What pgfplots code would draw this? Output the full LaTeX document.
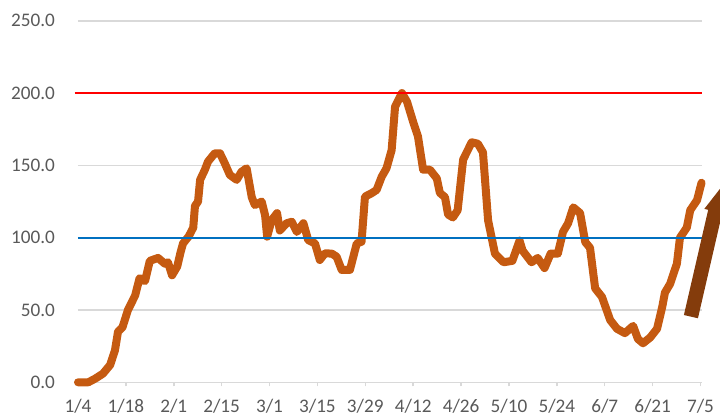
\documentclass[border=0pt]{standalone}
\usepackage{fontspec}
\setmainfont{Carlito}
\usepackage{pgfplots}
\pgfplotsset{compat=1.18}
\usetikzlibrary{calc}
\definecolor{lineorange}{HTML}{C55A11}
\definecolor{arrowbrown}{HTML}{843C0C}
\definecolor{gridgray}{HTML}{D9D9D9}
\definecolor{labelgray}{HTML}{595959}
\definecolor{refblue}{HTML}{0070C0}
\definecolor{refred}{HTML}{FF0000}

\begin{document}
\begin{tikzpicture}
\begin{axis}[
    scale only axis,
    width=312.1bp, height=180.75bp,
    xmin=0, xmax=182.5, ymin=0, ymax=250,
    axis lines*=left,
    x axis line style={gridgray, line width=0.75bp, -},
    y axis line style={draw=none, -},
    xtick={0,14,...,182},
    xticklabels={1/4,1/18,2/1,2/15,3/1,3/15,3/29,4/12,4/26,5/10,5/24,6/7,6/21,7/5},
    ytick={0,50,...,250},
    ymajorgrids,
    grid style={gridgray, line width=0.75bp},
    tick align=outside,
    xtick style={gridgray, line width=0.75bp},
    major tick length=2bp,
    ytick style={draw=none},
    tick label style={font=\fontsize{9.6bp}{11bp}\selectfont, text=labelgray},
    yticklabel style={/pgf/number format/.cd, fixed, fixed zerofill, precision=1, /tikz/.cd, xshift=-6bp},
    xticklabel style={yshift=-3bp},
    /pgf/number format/assume math mode=true,
    clip=false,
  ]
  \addplot[lineorange, line width=4bp, line join=round, line cap=round] coordinates {
    (0,0) (3,0) (5,2.5) (7.3,6) (9.4,12) (10.8,22) (11.7,35) (13,38) (14.6,50)
    (16.7,60) (18,72) (19.6,70) (21,84) (23.4,86) (25.4,82) (26.3,83) (27.5,74)
    (29,80) (30,90) (30.7,96) (32.4,101) (33.7,107) (34.2,122) (35.1,125) (35.7,140)
    (37.1,147) (38,152.6) (40,158.4) (41.5,158.4) (42.9,151.5) (44.4,143.4) (46.4,140)
    (47.8,145.6) (49.3,148) (50.8,128) (51.7,122.6) (53.7,125) (54.7,115.6) (55.3,100.7)
    (56.6,112) (58.2,117) (59,105) (61,110) (62.5,111) (64,104) (65.9,110) (67.3,98.4)
    (69.3,96) (70.7,84.6) (72.2,89.2) (74.2,89) (75.6,86.9) (77.1,77.7) (79.5,77.7)
    (81.5,96) (82.9,97.2) (83.9,128.4) (85.8,130.7) (87.3,133) (88.8,142.2) (90.2,148)
    (91.7,160.6) (92.7,190.6) (94.7,200) (96.2,194) (98,180) (99.4,170) (100.9,147)
    (102.9,147) (104.9,141) (105.8,131) (107.3,128) (108.2,116) (109.6,114) (111,119)
    (112.6,154) (115.1,166) (116.9,165) (118.4,159) (119.9,112) (121.9,89) (124.4,83)
    (127,84) (129.1,98) (130,91) (132.6,83) (134.4,86) (136.4,79) (138.2,89) (140.3,89)
    (141.8,104) (143.3,110) (144.8,121) (146.8,117) (148.3,97) (149.7,93) (151.2,65)
    (153.2,59) (155.6,43) (157.6,37) (159.9,34) (162.3,39) (163.7,30) (165.2,27)
    (167.3,31) (169.3,37) (170.8,52) (171.6,62) (173.1,68) (175.1,82) (176,100)
    (178,107) (179,119) (181,126) (182.3,138)
  };
  \addplot[refblue, line width=1.1bp] coordinates {(0,100) (182.5,100)};
  \addplot[refred, line width=1.1bp] coordinates {(-1,200) (182.5,200)};
  \coordinate (tail) at (axis cs:179.2,45.4);
  \coordinate (sw) at (rel axis cs:0,0);
  \coordinate (ne) at (rel axis cs:1,1);
\end{axis}
% trend arrow, cut at the page edge as in the reference
\begin{scope}[shift={(tail)}, rotate=77]
  \fill[arrowbrown] (0,-3.6bp) -- (54bp,-3.6bp) -- (54bp,-5.6bp) -- (66bp,0)
    -- (54bp,5.6bp) -- (54bp,3.6bp) -- (0,3.6bp) -- cycle;
\end{scope}
\pgfresetboundingbox
\path[use as bounding box] ($(sw)+(-39bp,-17.85bp)$) rectangle ($(ne)+(8.9bp,10.4bp)$);
\end{tikzpicture}
\end{document}
